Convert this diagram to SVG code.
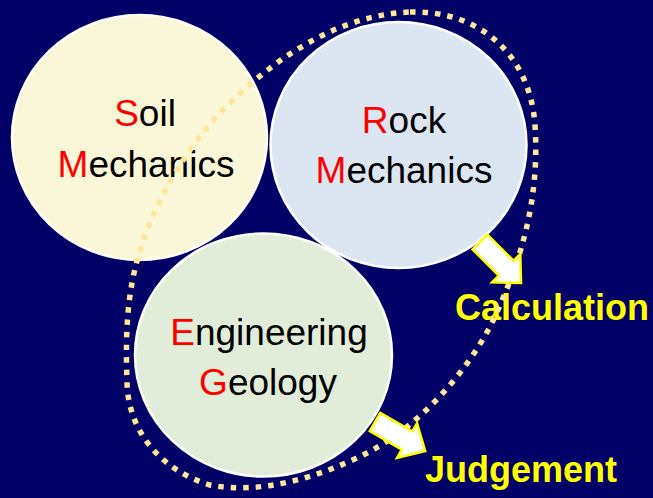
<svg xmlns="http://www.w3.org/2000/svg" width="653" height="498" viewBox="0 0 653 498">
  <defs>
    <style>
      .circ { stroke: #FFFFFF; stroke-width: 2.5; }
      .lbl { font-family: "Liberation Sans", Arial, sans-serif; font-size: 37px; fill: #000000; text-anchor: middle; }
      .ini { fill: #FF0000; }
      .out { font-family: "Liberation Sans", Arial, sans-serif; font-size: 36px; font-weight: bold; fill: #FFFF00; }
      .loop { fill: none; stroke: #FFE699; stroke-width: 5.5; stroke-dasharray: 5.5 7; }
      .arrow { fill: #FFFFFF; stroke: #FFFF00; stroke-width: 2.5; stroke-linejoin: miter; }
    </style>
    <path id="blockArrow" d="M0,-10.5 L37,-10.5 L37,-20 L58,0 L37,20 L37,10.5 L0,10.5 Z"/>
  </defs>
  <rect x="0" y="0" width="653" height="498" fill="#000066"/>

  <g id="soil-mechanics">
    <ellipse class="circ" cx="139.5" cy="137.5" rx="127.5" ry="122.5" fill="#F9F7D7"/>
    <text class="lbl" x="145" y="126"><tspan class="ini">S</tspan>oil</text>
    <text class="lbl" x="146" y="177"><tspan class="ini">M</tspan>echanics</text>
  </g>

  <g id="rock-mechanics">
    <ellipse class="circ" cx="398.5" cy="145" rx="128" ry="123" fill="#DCE6F2"/>
    <text class="lbl" x="404" y="133"><tspan class="ini">R</tspan>ock</text>
    <text class="lbl" x="404" y="183"><tspan class="ini">M</tspan>echanics</text>
  </g>

  <g id="engineering-geology">
    <ellipse class="circ" cx="263.5" cy="355" rx="128.5" ry="121.5" fill="#E1EDD9"/>
    <text class="lbl" x="269" y="345"><tspan class="ini">E</tspan>ngineering</text>
    <text class="lbl" x="268" y="395"><tspan class="ini">G</tspan>eology</text>
  </g>

  <g id="calculation">
    <text class="out" x="455" y="320">Calculation</text>
  </g>

  <g id="judgement">
    <text class="out" x="425" y="482">Judgement</text>
  </g>

  <g id="connectors">
    <path class="loop" d="M410,12 C480,10 530,55 535,125 C540,200 520,260 500,305 C480,355 430,420 367,453 C320,477 260,495 210,485 C160,470 127,430 127,380 C125,330 128,290 139,254 C155,200 190,140 233,100 C280,55 340,15 410,12 Z"/>
    <use href="#blockArrow" class="arrow" transform="translate(480,242) rotate(45)"/>
    <use href="#blockArrow" class="arrow" transform="translate(375,422) rotate(30)"/>
  </g>
</svg>
